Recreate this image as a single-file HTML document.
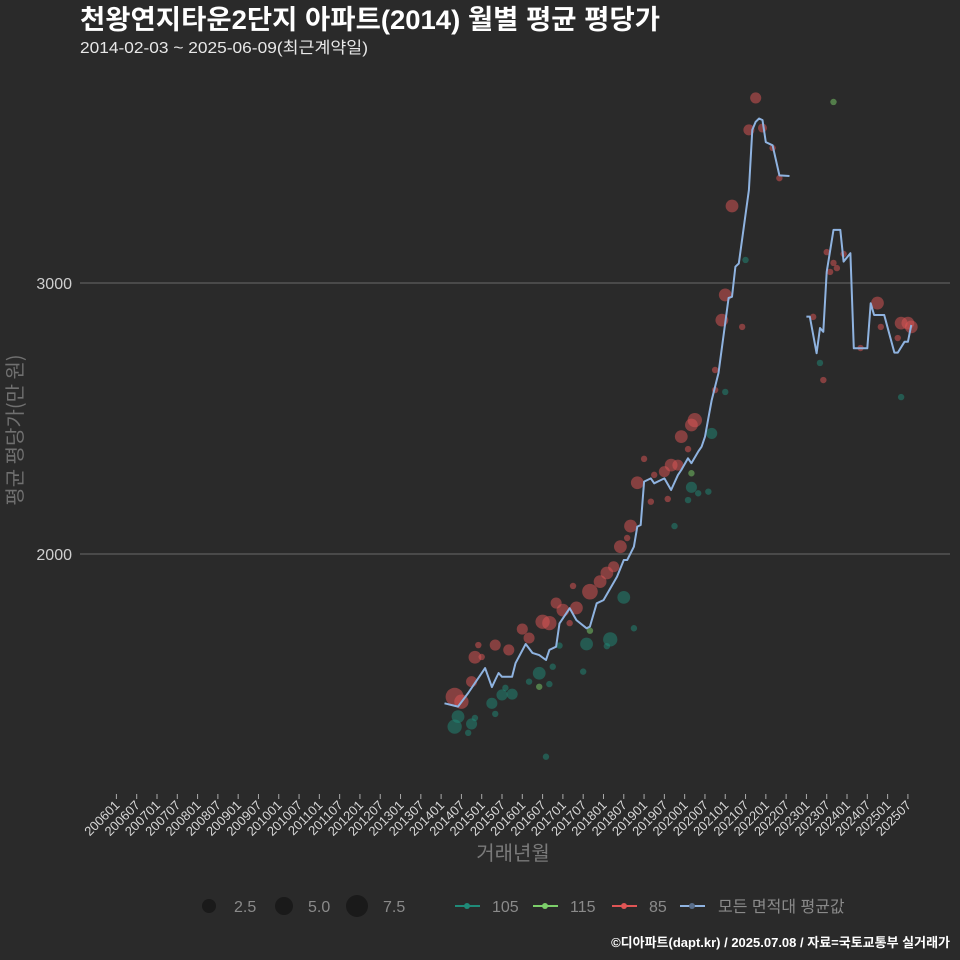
<!DOCTYPE html>
<html><head><meta charset="utf-8">
<style>
body{margin:0;background:#2a2a2a;}
svg{display:block;font-family:"Liberation Sans","Noto Sans CJK KR",sans-serif;}
</style></head>
<body>
<svg id="c" width="960" height="960" viewBox="0 0 960 960">
<rect width="960" height="960" fill="#2a2a2a"/>
<text x="80" y="29" fill="#ffffff" font-size="27" font-weight="bold" textLength="580" lengthAdjust="spacingAndGlyphs">천왕연지타운2단지 아파트(2014) 월별 평균 평당가</text>
<text x="80" y="53" fill="#e8e8e8" font-size="16" textLength="288" lengthAdjust="spacingAndGlyphs">2014-02-03 ~ 2025-06-09(최근계약일)</text>
<text transform="translate(22,430) rotate(-90)" text-anchor="middle" fill="#707070" font-size="20" style="font-family:'Noto Sans CJK KR',sans-serif">평균 평당가(만 원)</text>
<text x="513" y="860" text-anchor="middle" fill="#7a7a7a" font-size="20">거래년월</text>
<g id="grid"></g><g id="xt"></g><g id="pts"></g><g id="ln"></g>
<g id="legend">
<circle cx="209" cy="906" r="7" fill="#1a1a1a"/>
<text x="234" y="912" fill="#8a8a8a" font-size="16">2.5</text>
<circle cx="284" cy="906" r="9" fill="#1a1a1a"/>
<text x="308" y="912" fill="#8a8a8a" font-size="16">5.0</text>
<circle cx="357" cy="906" r="11" fill="#1a1a1a"/>
<text x="383" y="912" fill="#8a8a8a" font-size="16">7.5</text>
<g><line x1="455" x2="480" y1="906" y2="906" stroke="#1f8a78" stroke-width="2"/><circle cx="467" cy="906" r="3" fill="#1f8a78"/><text x="492" y="912" fill="#8a8a8a" font-size="16">105</text></g>
<g><line x1="533" x2="558" y1="906" y2="906" stroke="#7ccf6a" stroke-width="2"/><circle cx="545" cy="906" r="3" fill="#7ccf6a"/><text x="570" y="912" fill="#8a8a8a" font-size="16">115</text></g>
<g><line x1="612" x2="637" y1="906" y2="906" stroke="#e05555" stroke-width="2"/><circle cx="624" cy="906" r="3" fill="#e05555"/><text x="649" y="912" fill="#8a8a8a" font-size="16">85</text></g>
<g><line x1="680" x2="705" y1="906" y2="906" stroke="#8fb3e0" stroke-width="2"/><circle cx="692" cy="906" r="3" fill="#5a6f8c"/><text x="718" y="912" fill="#8a8a8a" font-size="16">모든 면적대 평균값</text></g>
</g>
<text x="950" y="947" text-anchor="end" fill="#ffffff" font-size="13" font-weight="bold">©디아파트(dapt.kr) / 2025.07.08 / 자료=국토교통부 실거래가</text>
</svg>
<script>
// month index: 0 = 2014-01
const lineMonths=[1,5,8,13,15,16,17,18,21,22,25,27,29,31,32,34,35,38,40,43,44,46,48,52,54,55,57,58,59,60,62,63,65,66,68,70,71,73,74,76,77,78,79,80,82,85,86,87,88,91,92,93,94,95,96,98,100,103,null,108,109,111,112,113,114,116,118,119,121,122,126,127,128,131,134,135,137,138,139];
const lineValues=[1449,1437,1487,1579,1509,1535,1561,1547,1547,1597,1668,1635,1627,1609,1646,1658,1744,1800,1756,1726,1732,1818,1830,1916,1978,1978,2027,2101,2107,2267,2279,2261,2273,2279,2236,2291,2310,2353,2335,2378,2396,2433,2500,2568,2668,2945,2949,3060,3072,3343,3565,3595,3607,3601,3520,3508,3397,3395,null,2876,2876,2741,2834,2820,3041,3196,3196,3079,3110,2759,2759,2925,2882,2882,2743,2743,2783,2783,2845];
const redMonths=[4,6,9,10,11,12,16,20,24,26,30,32,34,36,38,39,40,44,47,49,51,53,55,56,58,60,62,63,66,68,70,67,73,71,74,75,81,81,83,84,86,89,91,93,95,98,100,110,113,114,116,117,115,119,129,130,124,135,136,138,139];
const redValues=[1473,1455,1529,1619,1664,1620,1664,1646,1723,1690,1750,1745,1819,1793,1745,1882,1801,1861,1898,1930,1953,2027,2059,2103,2263,2351,2193,2292,2304,2328,2328,2203,2387,2433,2476,2494,2605,2679,2863,2956,3284,2838,3565,3683,3572,3498,3387,2875,2642,3114,3074,3055,3041,3107,2926,2838,2760,2797,2852,2852,2838];
const redCounts=[8,5,3,4,1,1,3,3,3,3,5,5,3,4,1,1,4,6,4,4,3,4,1,4,4,1,1,1,3,4,3,1,1,4,4,5,1,1,4,4,4,1,3,3,2,1,1,1,1,1,1,1,1,1,4,1,1,1,4,4,4];
const tealMonths=[4,5,9,8,10,15,16,18,21,19,26,29,32,33,35,31,42,43,50,49,54,57,69,73,74,76,79,80,84,90,112,136];
const tealValues=[1363,1400,1373,1340,1395,1449,1410,1480,1483,1506,1529,1560,1520,1584,1662,1252,1566,1668,1685,1660,1840,1726,2103,2199,2246,2224,2230,2445,2598,3085,2705,2579];
const tealCounts=[5,4,3,1,1,3,1,3,3,1,1,4,1,1,1,1,1,4,5,1,4,1,1,1,3,1,1,3,1,1,1,1];
const greenMonths=[29,44,74,116];
const greenValues=[1510,1717,2298,3668];
const greenCounts=[1,1,1,1];
const yTicks=[2000,3000];
const xTickLabels=[];
for(let y=2006;y<=2025;y++){xTickLabels.push(y+'01');xTickLabels.push(y+'07');}

const NS='http://www.w3.org/2000/svg';
function X(m){return 444.5+(m-1)*3.3825;}
function Y(v){return 283+(3000-v)*0.271;}
function R(n){return 3.2*Math.sqrt(n);}
function mk(tag,attrs,parent){const e=document.createElementNS(NS,tag);for(const k in attrs)e.setAttribute(k,attrs[k]);parent.appendChild(e);return e;}

const grid=document.getElementById('grid');
yTicks.forEach(t=>{
  const l=mk('line',{x1:80,x2:950,y1:Y(t),y2:Y(t),stroke:'#6a6a6a','stroke-width':1},grid);
  
  
  const tx=mk('text',{x:72,y:Y(t)+6,'text-anchor':'end',fill:'#cfcfcf','font-size':16},grid);
  tx.textContent=t;
  
  
});
const xt=document.getElementById('xt');
xTickLabels.forEach(lab=>{
  const yr=+lab.slice(0,4), mo=+lab.slice(4);
  const m=(yr-2014)*12+(mo-1);
  const x=X(m);
  const tk=mk('line',{x1:x,x2:x,y1:794,y2:799,stroke:'#aaaaaa','stroke-width':1},xt);
  
  
  const t=mk('text',{transform:`translate(${x+4},${806}) rotate(-45)`,'text-anchor':'end',fill:'#d8d8d8','font-size':13},xt);
  t.textContent=lab;
  
  
});
const pts=document.getElementById('pts');
function scatter(ms,vs,ns,col,name){
  ms.forEach((m,i)=>{
    const c=mk('circle',{cx:X(m),cy:Y(vs[i]),r:R(ns[i]),fill:col,'fill-opacity':0.5},pts);
    
    
  });
}
scatter(tealMonths,tealValues,tealCounts,'#1f8a78','point-105');
scatter(greenMonths,greenValues,greenCounts,'#7ccf6a','point-115');
scatter(redMonths,redValues,redCounts,'#e05555','point-85');
const ln=document.getElementById('ln');
let seg=[];
function flush(){
  if(seg.length>1){
    const p=mk('polyline',{points:seg.join(' '),fill:'none',stroke:'#8fb3e0','stroke-width':2,'stroke-linejoin':'round'},ln);
    
    
  }
  seg=[];
}
lineMonths.forEach((m,i)=>{
  if(m===null){flush();return;}
  seg.push(X(m).toFixed(1)+','+Y(lineValues[i]).toFixed(1));
});
flush();
</script>
</body></html>
